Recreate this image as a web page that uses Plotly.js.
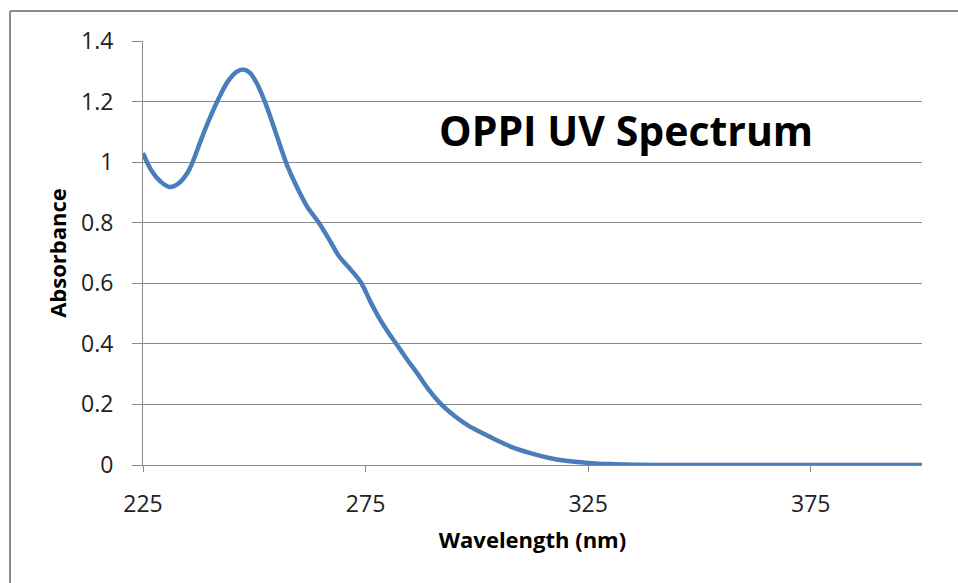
<!DOCTYPE html>
<html>
<head>
<meta charset="utf-8">
<script src="https://cdn.plot.ly/plotly-3.0.1.min.js"></script>
<style>
  html, body { margin: 0; padding: 0; background: #ffffff; }
  #chart { width: 958px; height: 583px; }
</style>
</head>
<body>
<div id="chart"></div>
<script>
// Wavelength (nm) and absorbance
const wavelength = [225, 227, 229, 231, 233, 235, 236, 238, 240, 242, 244, 246, 247.5, 249, 250.5,
  252.5, 255, 257.5, 260, 262, 264.5, 267, 269, 271.5, 274, 276, 278, 280, 282, 284, 286.5, 289,
  292, 295, 298, 301, 304, 308, 312, 316, 320, 325, 330, 335, 340, 350, 360, 370, 380, 390, 400];
const absorbance = [1.03, 0.97, 0.935, 0.918, 0.93, 0.965, 0.995, 1.072, 1.145, 1.21, 1.265, 1.298, 1.306, 1.295, 1.262,
  1.195, 1.09, 0.985, 0.905, 0.85, 0.80, 0.74, 0.69, 0.648, 0.602, 0.542, 0.487, 0.44, 0.398, 0.355, 0.305, 0.252,
  0.20, 0.162, 0.131, 0.107, 0.085, 0.058, 0.039, 0.024, 0.014, 0.007, 0.003, 0.001, 0, 0, 0, 0, 0, 0, 0];
const xTickVals = [225, 275, 325, 375];
const yTickVals = [0, 0.2, 0.4, 0.6, 0.8, 1, 1.2, 1.4];
const chartTitle = "OPPI UV Spectrum";
const xTitle = "Wavelength (nm)";
const yTitle = "Absorbance";

const fontFam = "'Open Sans', 'Noto Sans', sans-serif";
const gridColor = "#8a8a8a";

const trace = {
  x: wavelength,
  y: absorbance,
  type: "scatter",
  mode: "lines",
  line: { color: "#4a7ebb", width: 4.5, shape: "spline", smoothing: 1.0 },
  hoverinfo: "x+y",
  showlegend: false
};

const layout = {
  width: 958,
  height: 583,
  margin: { l: 143, r: 36, t: 41, b: 118, pad: 0 },
  paper_bgcolor: "#ffffff",
  plot_bgcolor: "#ffffff",
  font: { family: fontFam, color: "#222222" },
  xaxis: {
    range: [225, 400],
    tickmode: "array",
    tickvals: xTickVals,
    ticks: "outside",
    ticklen: 6,
    tickcolor: gridColor,
    tickwidth: 1,
    showgrid: false,
    zeroline: false,
    showline: true,
    linecolor: gridColor,
    linewidth: 1,
    tickfont: { family: fontFam, size: 23, color: "#222222" },
    ticklabelstandoff: 12,
    title: { text: xTitle, font: { family: fontFam, size: 22, color: "#000000", weight: "bold" }, standoff: 15 }
  },
  yaxis: {
    range: [0, 1.4],
    tickmode: "array",
    tickvals: yTickVals,
    ticks: "outside",
    ticklen: 10,
    tickcolor: gridColor,
    tickwidth: 1,
    showgrid: true,
    gridcolor: gridColor,
    gridwidth: 1,
    zeroline: false,
    showline: true,
    linecolor: gridColor,
    linewidth: 1,
    tickfont: { family: fontFam, size: 23, color: "#222222" },
    ticklabelstandoff: 14,
    title: { text: yTitle, font: { family: fontFam, size: 22, color: "#000000", weight: "bold" }, standoff: 8 }
  },
  annotations: [{
    text: chartTitle,
    xref: "paper", yref: "paper",
    x: 0.62, y: 0.79,
    xanchor: "center", yanchor: "middle",
    showarrow: false,
    font: { family: fontFam, size: 41, color: "#000000", weight: "bold" }
  }],
  shapes: [
    { type: "line", xref: "paper", yref: "paper", x0: -0.1707, x1: 1.2, y0: 1.0708, y1: 1.0708,
      line: { color: "#8c8c8c", width: 2 } },
    { type: "line", xref: "paper", yref: "paper", x0: -0.1707, x1: -0.1707, y0: 1.0708, y1: -0.4,
      line: { color: "#8c8c8c", width: 2 } }
  ]
};

Plotly.newPlot("chart", [trace], layout, { displayModeBar: false, staticPlot: true });
</script>
</body>
</html>
